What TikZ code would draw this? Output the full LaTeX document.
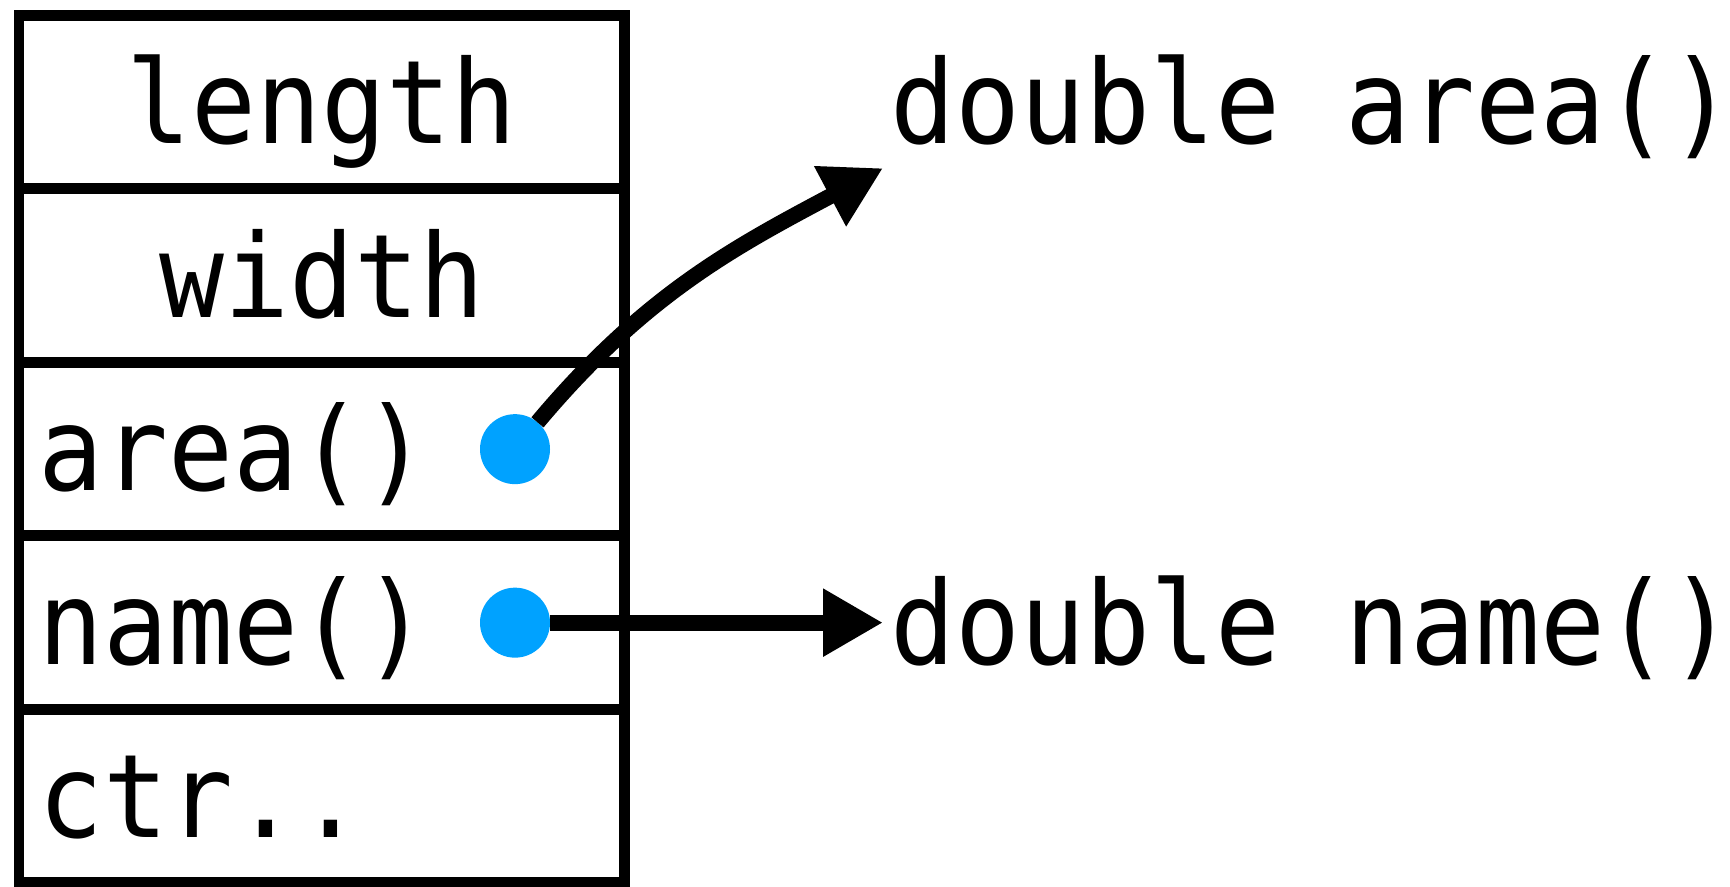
\documentclass[tikz,border=0pt]{standalone}
\usepackage{fontspec}
\setmonofont[FakeStretch=0.93]{DejaVu Sans Mono}
\usetikzlibrary{positioning,arrows.meta}
\definecolor{dotblue}{RGB}{0,162,255}
\begin{document}
\begin{tikzpicture}[font=\ttfamily\fontsize{33}{33}\selectfont,
  field/.style={draw, line width=3.1pt, minimum width=6.055cm, minimum height=1.735cm,
    outer sep=0pt, inner sep=0pt, text height=0.83cm, text depth=0pt},
  lfield/.style={field, text width=5.655cm, inner xsep=0.2cm, align=left},
  dot/.style={circle, fill=dotblue, minimum size=0.7cm, inner sep=0pt, outer sep=0pt},
  sig/.style={inner sep=0pt, inner xsep=0.07cm, text height=0.83cm, text depth=0pt},
  ptr/.style={line width=4.5pt, -{Triangle[length=0.6cm, width=0.64cm]}}]
  \useasboundingbox (0,0) rectangle (17.3,8.86);
  \node[field] (len) at (3.2175,7.8385) {length};
  \node[field, below=0pt of len] (wid) {width};
  \node[lfield, below=0pt of wid] (area) {area()};
  \node[lfield, below=0pt of area] (name) {name()};
  \node[lfield, below=0pt of name] (ctr) {ctr..};
  \node[sig, right=2.585cm of len] (da) {double area()};
  \node[sig, right=2.585cm of name] (dn) {double name()};
  \coordinate[below=0.66cm of da.west] (dat);
  \node[dot, left=0.745cm of area.east] (ad) {};
  \node[dot, left=0.745cm of name.east] (nd) {};
  \draw[ptr] (ad) to[out=50, in=208] (dat);
  \draw[ptr] (nd) -- (dn);
\end{tikzpicture}
\end{document}
